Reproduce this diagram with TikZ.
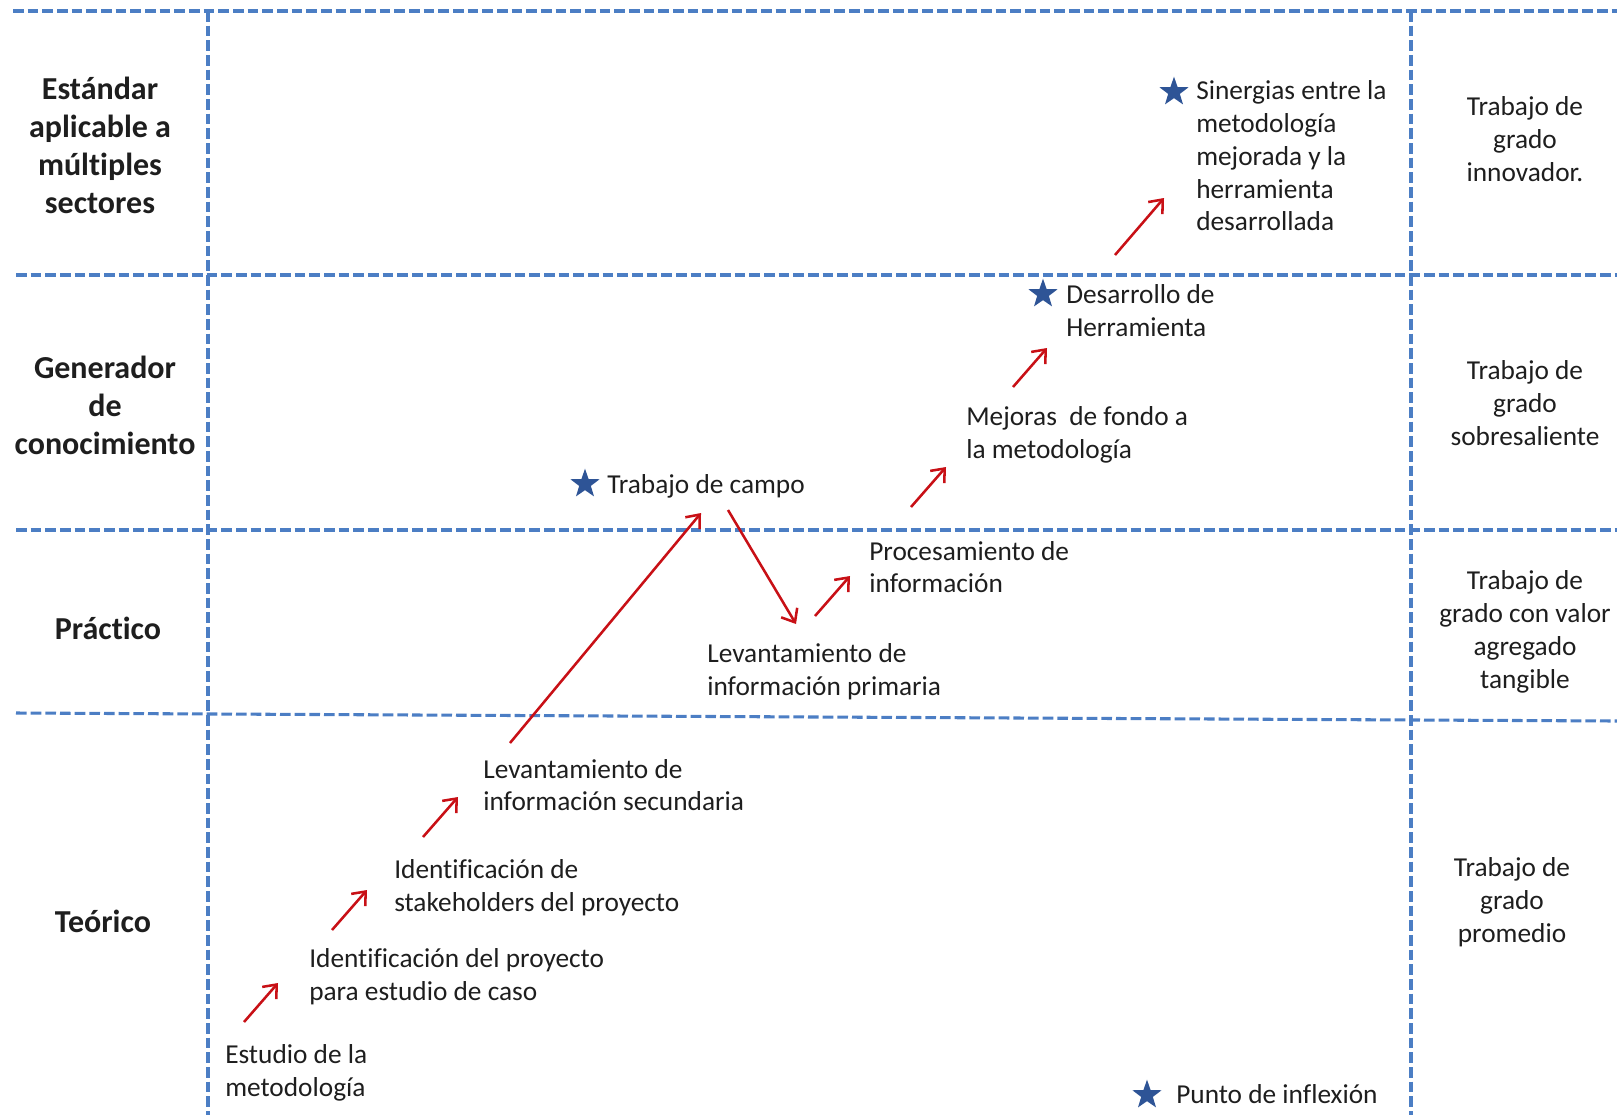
\documentclass[tikz,border=0pt]{standalone}
\usepackage{fontspec}
\setmainfont[Ligatures={NoCommon}]{Carlito}
\usetikzlibrary{arrows.meta,shapes.geometric}
\definecolor{gridblue}{RGB}{76,126,196}
\definecolor{arrowred}{RGB}{200,16,22}
\definecolor{starblue}{RGB}{46,84,150}
\definecolor{txt}{RGB}{30,30,30}
\begin{document}
\begin{tikzpicture}[x=0.75pt,y=-0.75pt,
  grid/.style={draw=gridblue,line width=2.3pt,dash pattern=on 8pt off 3pt},
  lvl/.style={font=\fontsize{24}{28.5}\selectfont\bfseries,align=center,text=txt,inner sep=0pt},
  grade/.style={font=\fontsize{20.5}{24.6}\selectfont,align=center,text=txt,inner sep=0pt},
  lbl/.style={font=\fontsize{20.5}{24.6}\selectfont,align=left,text=txt,inner sep=0pt,anchor=west},
  turnstar/.style={star,star points=5,star point ratio=2.5,fill=starblue,draw=none,inner sep=0pt,minimum size=23pt},
  flow/.style={draw=arrowred,line width=1.9pt,-{Straight Barb[length=8.5pt,width=14pt,line width=1.9pt]}}]
\useasboundingbox (0,0) rectangle (1617,1115);

% grid of levels
\draw[grid] (13,11) -- (1617,11);
\draw[grid] (16,275) -- (1617,275);
\draw[grid] (16,530) -- (1617,530);
\draw[grid] (16,713) -- (1617,721);
\draw[grid] (208,11) -- (208,1115);
\draw[grid] (1411,11) -- (1411,1115);

% level names
\node[lvl] (l1) at (100,145) {Estándar\\aplicable a\\múltiples\\sectores};
\node[lvl] (l2) at (105,405) {Generador\\de\\conocimiento};
\node[lvl] (l3) at (108,628) {Práctico};
\node[lvl] (l4) at (103,921) {Teórico};

% grade of the work
\node[grade] (g1) at (1525,139) {Trabajo de\\grado\\innovador.};
\node[grade] (g2) at (1525,403) {Trabajo de\\grado\\sobresaliente};
\node[grade] (g3) at (1525,632) {Trabajo de\\grado con valor\\agregado\\tangible};
\node[grade] (g4) at (1512,902) {Trabajo de\\grado\\promedio};

% steps
\node[lbl] (s1) at (225,1073) {Estudio de la\\metodología};
\node[lbl] (s2) at (309,977) {Identificación del proyecto\\para estudio de caso};
\node[lbl] (s3) at (394,888) {Identificación de\\stakeholders del proyecto};
\node[lbl] (s4) at (483,785) {Levantamiento de\\información secundaria};
\node[lbl] (s5) at (607,486) {Trabajo de campo};
\node[lbl] (s6) at (707,672) {Levantamiento de\\información primaria};
\node[lbl] (s7) at (869,567) {Procesamiento de\\información};
\node[lbl] (s8) at (966,435) {Mejoras\ \ de fondo a\\la metodología};
\node[lbl] (s9) at (1066,311) {Desarrollo de\\Herramienta};
\node[lbl] (s10) at (1196,156) {Sinergias entre la\\metodología\\mejorada y la\\herramienta\\desarrollada};
\node[lbl] (key) at (1176,1094) {Punto de inflexión};

% turning points
\node[turnstar] (m5) at (585,484) {};
\node[turnstar] (m9) at (1043,294) {};
\node[turnstar] (m10) at (1174,92) {};
\node[turnstar] (mk) at (1147,1095) {};

% arrow ends
\coordinate (a1) at (244,1022); \coordinate (b1) at (278,983);
\coordinate (a2) at (332,930);  \coordinate (b2) at (367,890);
\coordinate (a3) at (423,837);  \coordinate (b3) at (458,797);
\coordinate (a4) at (510,743);  \coordinate (b4) at (701,513);
\coordinate (a5) at (728,510);  \coordinate (b5) at (796,624);
\coordinate (a6) at (815,616);  \coordinate (b6) at (850,576);
\coordinate (a7) at (911,507);  \coordinate (b7) at (946,467);
\coordinate (a8) at (1013,387); \coordinate (b8) at (1047,348);
\coordinate (a9) at (1115,255); \coordinate (b9) at (1164,198);

\foreach \i in {1,...,9} \draw[flow] (a\i) -- (b\i);
\end{tikzpicture}
\end{document}
